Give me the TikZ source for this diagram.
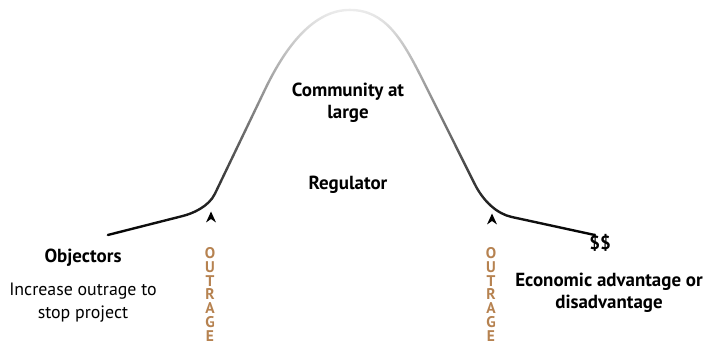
\documentclass[tikz,border=0pt]{standalone}
\usepackage{fontspec}
\setmainfont{PT Sans}
\usepackage{tikz}
\usetikzlibrary{arrows.meta, fadings, positioning}
\usepackage{xcolor}

\definecolor{outragebrown}{RGB}{182,130,80}
\tikzfading[name=fade to top, top color=transparent!93, bottom color=transparent!0]

\begin{document}
\begin{tikzpicture}[x=0.75pt, y=-0.75pt,
    label/.style={font=\fontsize{13.4}{17}\selectfont, align=center, text=black, inner sep=0pt},
    heading/.style={label, font=\fontsize{14.2}{16.5}\selectfont\bfseries},
    outrage/.style={font=\fontsize{11.6}{10.4}\selectfont\bfseries, text=outragebrown,
      align=center, inner sep=0pt, anchor=north},
    pointer/.style={fill=black, line join=miter}]
  \useasboundingbox (0,0) rectangle (706,345);

  % The bell curve, dark at the foot and fading out towards the top.
  \draw [line width=1.8pt,
    line cap=round,
    path fading=fade to top]
    (108,235) -- (183,216)
    .. controls (193,213.5) and (209,206.5) .. (215,194)
    -- (265,90)
    .. controls (287,44) and (315,10) .. (350,10)
    .. controls (385,10) and (402,38) .. (423,80)
    -- (475,184)
    .. controls (484,202) and (498,214) .. (512,217)
    -- (595,235);

  % Labels inside the curve.
  \node [heading] (community) at (348,103) {Community at\\large};
  \node [heading] (regulator) at (348,185) {Regulator};

  % Left foot: the objectors.
  \node [heading] (objectors) at (83,258) {Objectors};
  \node [label,
    below=12pt of objectors] (increase) {Increase outrage to\\stop project};

  % Right foot: the money side.
  \node [heading] (dollars) at (600,243) {\$\$};
  \node [heading] (economic) at (609,293)
    {Economic advantage or\\disadvantage};

  % Outrage markers pushing on the curve.
  \coordinate (left tip) at (211,211.5);
  \fill [pointer] (left tip) -- ++(5,11) -- ++(-5,-3.5) -- ++(-5,3.5) -- cycle;
  \node [outrage] (outrage left) at (210,247) {O\\U\\T\\R\\A\\G\\E};

  \coordinate (right tip) at (492,213.5);
  \fill [pointer] (right tip) -- ++(5,11) -- ++(-5,-3.5) -- ++(-5,3.5) -- cycle;
  \node [outrage] (outrage right) at (491,247) {O\\U\\T\\R\\A\\G\\E};
\end{tikzpicture}
\end{document}
